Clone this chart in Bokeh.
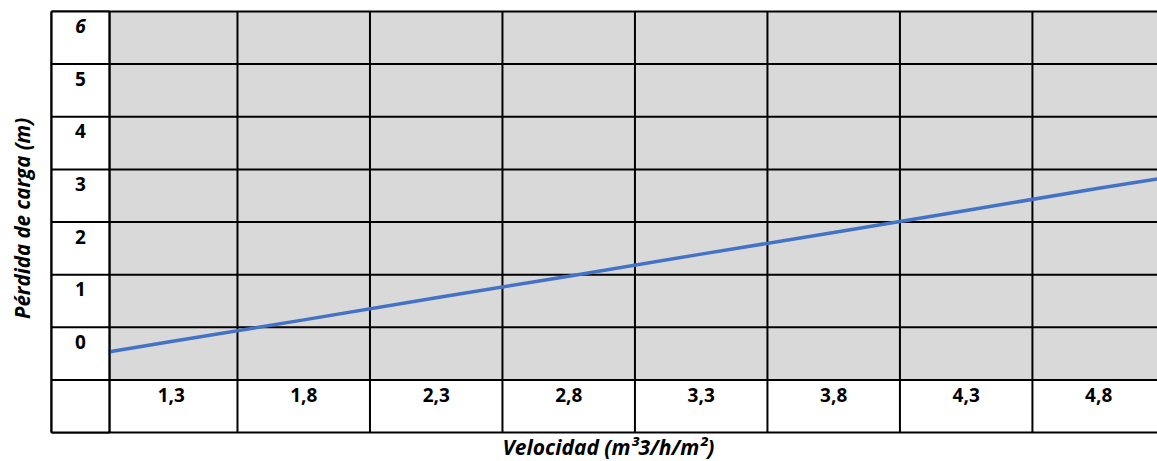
import math
from bokeh.plotting import figure
from bokeh.models import Range1d
from bokeh.core.properties import value
from bokeh.embed import file_html
from bokeh.resources import INLINE

# ---- data ----
categorias_x = ["1,3", "1,8", "2,3", "2,8", "3,3", "3,8", "4,3", "4,8"]
velocidad_cat = [1.3, 1.8, 2.3, 2.8, 3.3, 3.8, 4.3, 4.8]
etiquetas_y = ["0", "1", "2", "3", "4", "5", "6"]
valores_y = [0, 1, 2, 3, 4, 5, 6]
velocidad = [1.05, 1.3, 1.8, 2.3, 2.8, 3.3, 3.8, 4.3, 4.8, 5.05]
perdida = [0.52, 0.73, 1.14, 1.56, 1.97, 2.39, 2.80, 3.22, 3.64, 3.84]

titulo_x = "Velocidad (m³3/h/m²)"
titulo_y = "Pérdida de carga (m)"

# ---- layout (table geometry) ----
FONT = "Open Sans"
half = 0.25
table_left = 0.848
data_left = 1.067
y_bot = -1
y_top = 7
right_far = 5.3

p = figure(width=1157, height=461,
           x_range=Range1d(0.6557, 5.022), y_range=Range1d(-1.551, 7.209),
           output_backend="svg", toolbar_location=None,
           min_border_left=0, min_border_right=0, min_border_top=0, min_border_bottom=0)
p.axis.visible = False
p.grid.visible = False
p.outline_line_color = None
p.background_fill_color = "white"
p.border_fill_color = "white"

# gray plot area
p.quad(left=[data_left], right=[right_far], bottom=[0], top=[y_top],
       fill_color="#d9d9d9", line_color=None)

# grid lines of the table
h_vals = list(range(y_bot, y_top + 1))
p.segment(x0=[table_left] * len(h_vals), x1=[right_far] * len(h_vals),
          y0=h_vals, y1=h_vals, line_color="black", line_width=2)
v_vals = [table_left, data_left] + [c + half for c in velocidad_cat]
p.segment(x0=v_vals, x1=v_vals, y0=[y_bot] * len(v_vals), y1=[y_top] * len(v_vals),
          line_color="black", line_width=2)

# data line
p.line(velocidad, perdida, line_color="#4472C4", line_width=3.5)

# label column cover (clips line) and its borders
p.quad(left=[table_left + 0.004], right=[data_left - 0.004], bottom=[y_bot], top=[y_top],
       fill_color="white", line_color=None)
p.segment(x0=[table_left] * len(h_vals), x1=[data_left] * len(h_vals),
          y0=h_vals, y1=h_vals, line_color="black", line_width=2)
p.segment(x0=[table_left, data_left], x1=[table_left, data_left],
          y0=[y_bot, y_bot], y1=[y_top, y_top], line_color="black", line_width=2)

# row labels
lab_x = (table_left + data_left) / 2
p.text(x=[lab_x] * (len(etiquetas_y) - 1), y=[v + 0.72 for v in valores_y[:-1]],
       text=etiquetas_y[:-1], text_font=value(FONT), text_font_style="bold",
       text_font_size="19px", text_align="center", text_baseline="middle",
       text_color="black")
p.text(x=[lab_x], y=[valores_y[-1] + 0.72], text=[etiquetas_y[-1]],
       text_font=value(FONT), text_font_style="bold italic",
       text_font_size="19px", text_align="center", text_baseline="middle",
       text_color="black")

# column labels
p.text(x=velocidad_cat, y=[-0.28] * len(velocidad_cat), text=categorias_x,
       text_font=value(FONT), text_font_style="bold", text_font_size="19px",
       text_align="center", text_baseline="middle", text_color="black")

# axis titles
p.text(x=[2.95], y=[-1.266], text=[titulo_x], text_font=value(FONT),
       text_font_style="bold italic", text_font_size="21px",
       text_color="black", text_align="center", text_baseline="middle")
p.text(x=[0.7387], y=[3.067], text=[titulo_y], text_font=value(FONT), angle=math.pi / 2,
       text_font_style="bold italic", text_font_size="20.5px",
       text_color="black", text_align="center", text_baseline="middle")

open("out.html", "w").write(file_html(p, INLINE))
